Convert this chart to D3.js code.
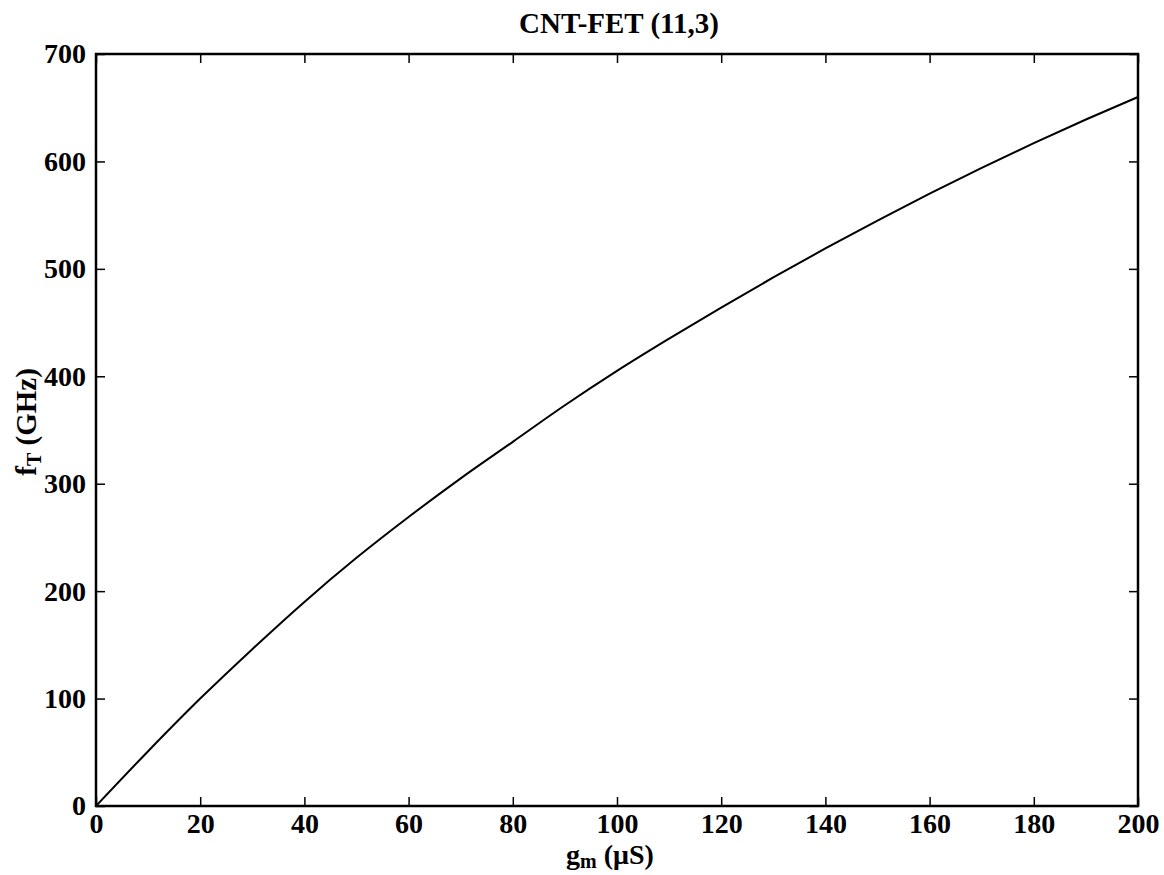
<!DOCTYPE html>
<html>
<head>
<meta charset="utf-8">
<script src="https://cdn.jsdelivr.net/npm/d3@7"></script>
<style>
  html, body { margin: 0; padding: 0; background: #fff; }
  svg { display: block; font-family: "Liberation Serif", "Times New Roman", serif; font-weight: bold; }
</style>
</head>
<body>
<div id="chart"></div>
<script>
// values
const gm = [0, 10, 20, 30, 40, 50, 60, 70, 80, 90, 100, 110, 120, 130, 140, 150, 160, 170, 180, 190, 200];
const fT = [0, 51, 100, 146, 190, 231, 269, 305, 339, 373, 405, 435, 464, 492, 519, 545, 570, 594, 617, 639, 660];
const xTicks = [0, 20, 40, 60, 80, 100, 120, 140, 160, 180, 200];
const yTicks = [0, 100, 200, 300, 400, 500, 600, 700];

const width = 1164, height = 875;
const m = { top: 54, right: 26, bottom: 69, left: 96 };

const svg = d3.select("#chart").append("svg")
  .attr("width", width)
  .attr("height", height);

const x = d3.scaleLinear().domain([0, 200]).range([m.left, width - m.right]);
const y = d3.scaleLinear().domain([0, 700]).range([height - m.bottom, m.top]);

const tickLen = 9;

function styleAxis(g, showText) {
  g.select(".domain").remove();
  g.selectAll(".tick line").attr("stroke", "#000").attr("stroke-width", 1.5);
  g.selectAll(".tick text")
    .attr("fill", "#000")
    .attr("font-size", 28)
    .attr("font-family", "Liberation Serif, Times New Roman, serif")
    .attr("font-weight", "bold");
  if (!showText) g.selectAll(".tick text").remove();
}

// bottom + top
svg.append("g")
  .attr("transform", `translate(0,${height - m.bottom})`)
  .call(d3.axisBottom(x).tickValues(xTicks).tickSize(-tickLen).tickPadding(7).tickFormat(d3.format("d")))
  .call(g => styleAxis(g, true));

svg.append("g")
  .attr("transform", `translate(0,${m.top})`)
  .call(d3.axisTop(x).tickValues(xTicks).tickSize(-tickLen))
  .call(g => styleAxis(g, false));

// left + right
svg.append("g")
  .attr("transform", `translate(${m.left},0)`)
  .call(d3.axisLeft(y).tickValues(yTicks).tickSize(-tickLen).tickPadding(10).tickFormat(d3.format("d")))
  .call(g => styleAxis(g, true));

svg.append("g")
  .attr("transform", `translate(${width - m.right},0)`)
  .call(d3.axisRight(y).tickValues(yTicks).tickSize(-tickLen))
  .call(g => styleAxis(g, false));

// curve
const line = d3.line()
  .x((d, i) => x(gm[i]))
  .y(d => y(d))
  .curve(d3.curveMonotoneX);

svg.append("path")
  .datum(fT)
  .attr("fill", "none")
  .attr("stroke", "#000")
  .attr("stroke-width", 2)
  .attr("d", line);

// box
svg.append("rect")
  .attr("x", m.left)
  .attr("y", m.top)
  .attr("width", width - m.left - m.right)
  .attr("height", height - m.top - m.bottom)
  .attr("fill", "none")
  .attr("stroke", "#000")
  .attr("stroke-width", 2.5);

// title
svg.append("text")
  .attr("x", 619)
  .attr("y", 33)
  .attr("text-anchor", "middle")
  .attr("font-size", 29)
  .text("CNT-FET (11,3)");

// x label
const xl = svg.append("text")
  .attr("x", 610)
  .attr("y", 864)
  .attr("text-anchor", "middle")
  .attr("font-size", 28);
xl.append("tspan").text("g");
xl.append("tspan").attr("font-size", 20).attr("dy", 4).text("m");
xl.append("tspan").attr("dy", -4).text(" (\u03BCS)");

// y label
const yl = svg.append("text")
  .attr("transform", `translate(36,422) rotate(-90)`)
  .attr("text-anchor", "middle")
  .attr("font-size", 29);
yl.append("tspan").text("f");
yl.append("tspan").attr("font-size", 20).attr("dy", 5).text("T");
yl.append("tspan").attr("dy", -5).text(" (GHz)");
</script>
</body>
</html>
